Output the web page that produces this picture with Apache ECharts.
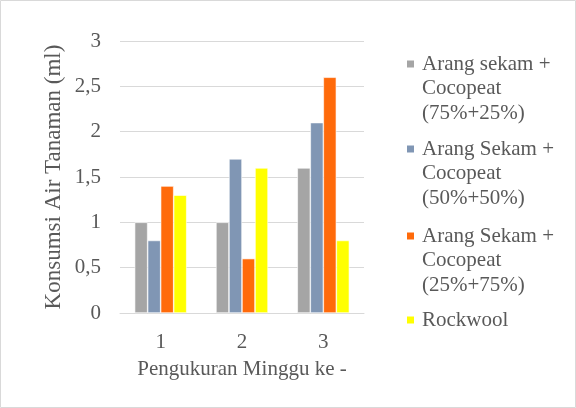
<!DOCTYPE html>
<html>
<head>
<meta charset="utf-8">
<script src="https://cdn.jsdelivr.net/npm/echarts@6/dist/echarts.min.js"></script>
<style>
  html, body { margin: 0; padding: 0; background: #fff; }
  #chart { width: 576px; height: 408px; }
</style>
</head>
<body>
<div id="chart"></div>
<script>
// Weekly water consumption per growing medium
const categories = ['1', '2', '3'];
const seriesNames = [
  'Arang sekam +\nCocopeat\n(75%+25%)',
  'Arang Sekam +\nCocopeat\n(50%+50%)',
  'Arang Sekam +\nCocopeat\n(25%+75%)',
  'Rockwool'
];
const arangSekam75 = [1.0, 1.0, 1.6];
const arangSekam50 = [0.8, 1.7, 2.1];
const arangSekam25 = [1.4, 0.6, 2.6];
const rockwool = [1.3, 1.6, 0.8];
const seriesValues = [arangSekam75, arangSekam50, arangSekam25, rockwool];
const colors = ['#A5A5A5', '#8096B4', '#FF6A0A', '#FFFF00'];
const yTicks = { min: 0, max: 3, interval: 0.5 };

const textColor = '#595959';
const LH = 24.5;

// Marker sitting on the first line of a three-line legend label
const blockH = LH * 3;
const sq = 9;
const sqTop = LH / 2 - sq / 2;
const topSquare = 'path://M0,0h0.01v0.01h-0.01z M0,' + sqTop + 'h' + sq + 'v' + sq + 'h-' + sq + 'z M0,' + blockH + 'h0.01v0.01h-0.01z';
const legendTops = [63, 148, 235, 320].map(c => c - LH / 2);

const legends = seriesNames.map((name, i) => {
  const multi = name.indexOf('\n') >= 0;
  return {
    data: [name],
    left: 405,
    top: legendTops[i],
    orient: 'vertical',
    padding: 0,
    selectedMode: false,
    icon: multi ? topSquare : 'rect',
    itemWidth: sq,
    itemHeight: multi ? blockH : sq,
    textStyle: {
      fontFamily: 'Liberation Serif',
      fontSize: 21,
      color: textColor,
      lineHeight: LH,
      padding: [0, 0, 0, 2]
    }
  };
});

const chart = echarts.init(document.getElementById('chart'));
chart.setOption({
  animation: false,
  color: colors,
  graphic: [{
    type: 'rect',
    shape: { x: 0.5, y: 0.5, width: 575, height: 407 },
    style: { fill: 'none', stroke: '#D9D9D9', lineWidth: 1 },
    silent: true,
    z: -1
  }],
  legend: legends,
  grid: { left: 120, right: 212, top: 41, bottom: 95 },
  xAxis: {
    type: 'category',
    data: categories,
    name: 'Pengukuran Minggu ke -',
    nameLocation: 'middle',
    nameGap: 46,
    nameTextStyle: { fontFamily: 'Liberation Serif', fontSize: 21, color: textColor },
    axisLine: { lineStyle: { color: '#D9D9D9', width: 1 } },
    axisTick: { show: false },
    axisLabel: { fontFamily: 'Liberation Serif', fontSize: 21, color: textColor, margin: 19 }
  },
  yAxis: {
    type: 'value',
    min: yTicks.min,
    max: yTicks.max,
    interval: yTicks.interval,
    name: 'Konsumsi Air Tanaman (ml)',
    nameLocation: 'middle',
    nameRotate: 90,
    nameGap: 55,
    nameTextStyle: { fontFamily: 'Liberation Serif', fontSize: 23, color: textColor },
    axisLine: { show: false },
    axisTick: { show: false },
    splitLine: { lineStyle: { color: '#D9D9D9', width: 1 } },
    axisLabel: {
      fontFamily: 'Liberation Serif', fontSize: 21, color: textColor, margin: 19,
      formatter: v => String(v).replace('.', ',')
    }
  },
  series: seriesNames.map((name, i) => ({
    name: name,
    type: 'bar',
    data: seriesValues[i],
    barGap: '0%',
    barCategoryGap: '36%',
    itemStyle: { color: colors[i], borderColor: '#ffffff', borderWidth: 0.6 }
  }))
});
</script>
</body>
</html>
